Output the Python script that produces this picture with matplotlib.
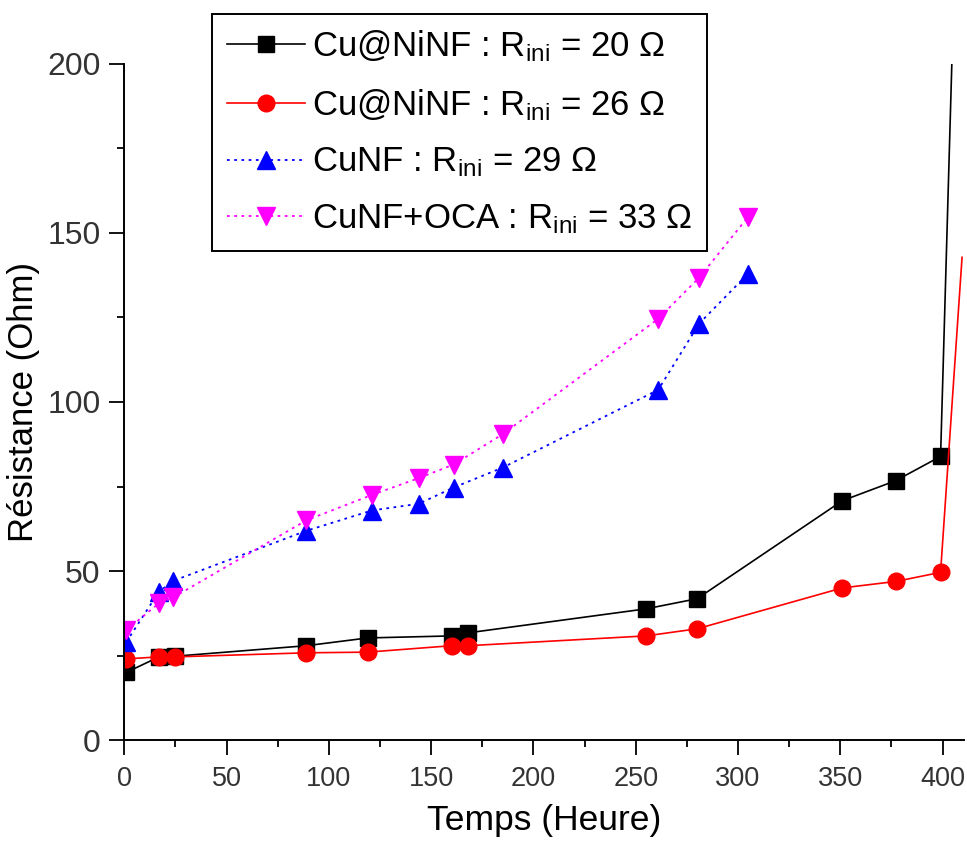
import matplotlib
matplotlib.use("Agg")
import matplotlib.pyplot as plt
from matplotlib.ticker import MultipleLocator

plt.rcParams['font.family'] = ['Liberation Sans', 'DejaVu Sans']
plt.rcParams['mathtext.fontset'] = 'custom'
plt.rcParams['mathtext.rm'] = 'Liberation Sans'
plt.rcParams['mathtext.it'] = 'Liberation Sans'

# Cu@NiNF, R_ini = 20 ohm (last point = line leaving the top of the frame)
t_a = [1, 17, 25, 89, 119, 160, 168, 255, 280, 351, 377, 399, 404.5]
r_a = [20, 24.6, 24.8, 27.9, 30.2, 30.8, 31.7, 38.8, 41.8, 70.8, 76.7, 83.9, 200]

# Cu@NiNF, R_ini = 26 ohm
t_b = [1, 17, 25, 89, 119, 160, 168, 255, 280, 351, 377, 399, 409.5]
r_b = [24.0, 24.6, 24.6, 25.8, 26.0, 27.9, 27.9, 30.8, 32.9, 45.0, 46.9, 49.6, 142.8]

# CuNF, R_ini = 29 ohm
t_c = [1, 17, 24, 89, 121, 144, 161, 185, 261, 281, 305]
r_c = [29, 43.9, 47.1, 61.9, 67.9, 69.9, 74.7, 80.6, 103.6, 123.2, 138]

# CuNF+OCA, R_ini = 33 ohm
t_d = [1, 17, 24, 89, 121, 144, 161, 185, 261, 281, 305]
r_d = [32.5, 40.5, 42.2, 65.0, 72.5, 77.5, 81.5, 90.5, 124.6, 136.8, 154.8]

labels = [r'Cu@NiNF : $\mathregular{R_{ini}}$ = 20 Ω',
          r'Cu@NiNF : $\mathregular{R_{ini}}$ = 26 Ω',
          r'CuNF : $\mathregular{R_{ini}}$ = 29 Ω',
          r'CuNF+OCA : $\mathregular{R_{ini}}$ = 33 Ω']

fig = plt.figure(figsize=(9.67, 8.44), dpi=100)
ax = fig.add_axes([0.1285, 0.1232, 0.8685, 0.8010])

ax.plot(t_a, r_a, color='black', lw=1.2, marker='s', ms=11.5,
        markevery=slice(0, -1), label=labels[0])
ax.plot(t_b, r_b, color='red', lw=1.2, marker='o', ms=12,
        markevery=slice(0, -1), label=labels[1])
ax.plot(t_c, r_c, color='blue', lw=1.3, ls=(0, (1.5, 2.5)), marker='^',
        ms=13, label=labels[2])
ax.plot(t_d, r_d, color='magenta', lw=1.3, ls=(0, (1.5, 2.5)), marker='v',
        ms=13, label=labels[3])

ax.set_xlim(0, 410.5)
ax.set_ylim(0, 200)
ax.spines['top'].set_visible(False)
ax.spines['right'].set_visible(False)
for s in ('left', 'bottom'):
    ax.spines[s].set_linewidth(1.4)

ax.xaxis.set_major_locator(MultipleLocator(50))
ax.xaxis.set_minor_locator(MultipleLocator(25))
ax.yaxis.set_major_locator(MultipleLocator(50))
ax.yaxis.set_minor_locator(MultipleLocator(25))
ax.tick_params(which='major', direction='out', length=11, width=1.3, pad=6)
ax.tick_params(which='minor', direction='out', length=5, width=1.3)
ax.tick_params(axis='y', labelsize=23, labelcolor='#333333')
ax.tick_params(axis='x', labelsize=19.5, labelcolor='#333333', pad=8)

ax.set_xlabel('Temps (Heure)', fontsize=25.5, labelpad=8)
ax.set_ylabel('Résistance (Ohm)', fontsize=25, labelpad=5)

leg = ax.legend(loc='upper left', bbox_to_anchor=(0.1044, 1.074),
                borderaxespad=0, fontsize=25, frameon=True, fancybox=False,
                edgecolor='black', framealpha=1, handlelength=2.25,
                handletextpad=0.2, borderpad=0.42, labelspacing=0.66)
leg.get_frame().set_linewidth(1.4)

fig.savefig('out.png', dpi=100)
